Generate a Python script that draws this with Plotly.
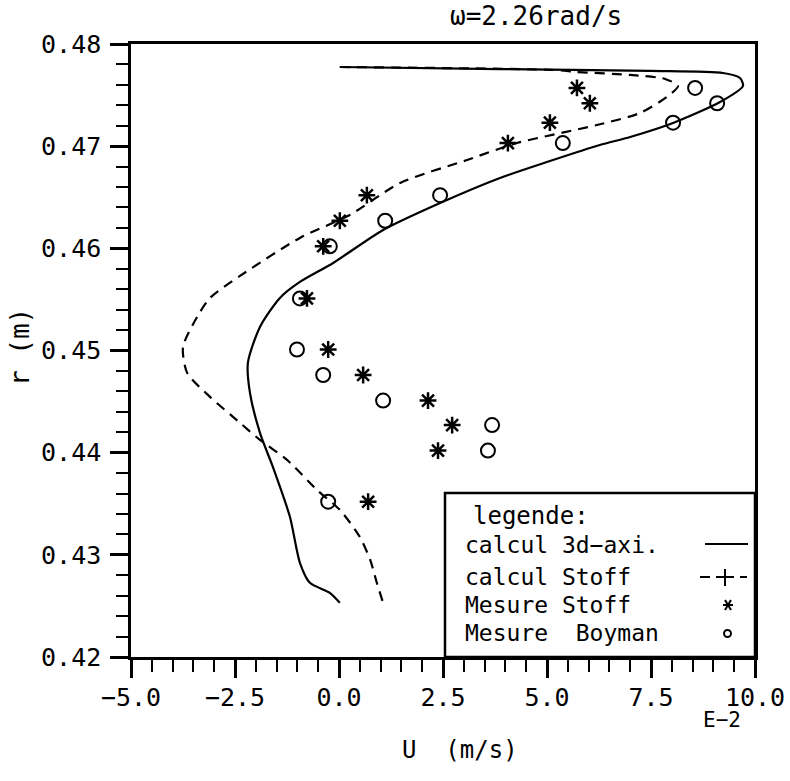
import plotly.graph_objects as go

# ---- data ----
calc3d_u = [0.02, 3.87, 7.48, 9.23, 9.64, 9.71, 9.16, 8.03, 7.0, 6.27, 5.07, 3.87, 2.43, 1.06, -0.14,
            -0.94, -1.42, -1.90, -2.19, -2.14, -1.90, -1.59, -1.18, -0.94, -0.70, -0.22, 0.02]
calc3d_r = [0.47775, 0.47755, 0.47736, 0.47716, 0.47667, 0.47589, 0.47432, 0.47227, 0.47090, 0.47012,
            0.46855, 0.46689, 0.46444, 0.4618, 0.45857, 0.45671, 0.45515, 0.45231, 0.44879, 0.44585,
            0.44194, 0.43861, 0.43372, 0.42922, 0.42726, 0.42628, 0.4253]

stoff_u = [0.02, 5.2, 5.72, 7.0, 7.84, 8.15, 7.88, 7.24, 6.2, 4.28, 3.08, 1.47, 0.26, -0.94, -2.38,
           -3.10, -3.41, -3.75, -3.65, -3.10, -2.38, -1.90, -1.25, -0.53, 0.02, 0.50, 0.75, 0.91, 1.06]
stoff_r = [0.47775, 0.47745, 0.47726, 0.47697, 0.47658, 0.47589, 0.47481, 0.47325, 0.47207, 0.47031,
           0.46865, 0.4664, 0.46327, 0.46102, 0.4573, 0.45515, 0.45329, 0.45035, 0.44781, 0.44546,
           0.44292, 0.44125, 0.4393, 0.43636, 0.4344, 0.43176, 0.42951, 0.42726, 0.4253]

mes_stoff_u = [5.72, 6.03, 5.07, 4.06, 0.67, 0.02, -0.38, -0.77, -0.26, 0.58, 2.14, 2.72, 2.38, 0.70]
mes_stoff_r = [0.4757, 0.4742, 0.4723, 0.4703, 0.4652, 0.4627, 0.4602, 0.4551, 0.4501, 0.4476,
               0.4451, 0.4427, 0.4402, 0.4352]

boyman_u = [8.56, 9.09, 8.03, 5.38, 2.43, 1.11, -0.22, -0.94, -1.01, -0.38, 1.06, 3.68, 3.58, -0.26]
boyman_r = [0.4757, 0.4742, 0.4723, 0.4703, 0.4652, 0.4627, 0.4602, 0.4551, 0.4501, 0.4476,
            0.4451, 0.4427, 0.4402, 0.4352]

x_ticks = [-5.0, -2.5, 0.0, 2.5, 5.0, 7.5, 10.0]
y_ticks = [0.42, 0.43, 0.44, 0.45, 0.46, 0.47, 0.48]

FONT = "DejaVu Sans Mono"
W, H = 790, 781
L, R, T, B = 131, 755, 44, 657


def px(x):
    return (x - L) / (R - L)


def py(y):
    return (B - y) / (B - T)


fig = go.Figure()
fig.add_trace(go.Scatter(x=calc3d_u, y=calc3d_r, mode="lines",
                         line=dict(color="black", width=2.2, shape="spline", smoothing=0.7),
                         showlegend=False))
fig.add_trace(go.Scatter(x=stoff_u, y=stoff_r, mode="lines",
                         line=dict(color="black", width=2.2, dash="10px,7px", shape="spline", smoothing=0.7),
                         showlegend=False))
fig.add_trace(go.Scatter(x=mes_stoff_u, y=mes_stoff_r, mode="markers",
                         marker=dict(symbol="asterisk-open", size=14, color="black",
                                     line=dict(color="black", width=2.5)),
                         showlegend=False))
fig.add_trace(go.Scatter(x=boyman_u, y=boyman_r, mode="markers",
                         marker=dict(symbol="circle-open", size=14, color="black",
                                     line=dict(color="black", width=2)),
                         showlegend=False))

axis_common = dict(showgrid=False, zeroline=False, showline=True, linecolor="black",
                   linewidth=2.5, mirror=True, ticks="outside", ticklen=18, tickwidth=2.5,
                   tickcolor="black", automargin=False,
                   tickfont=dict(family=FONT, size=25, color="black"))

fig.update_xaxes(range=[-5, 10], tickvals=x_ticks, tickformat=".1f", ticklabelstandoff=-2,
                 minor=dict(ticks="outside", ticklen=12, tickwidth=2, tickcolor="black", dtick=0.5),
                 **axis_common)
fig.update_yaxes(range=[0.42, 0.48], tickvals=y_ticks, tickformat=".2f", ticklabelstandoff=4,
                 minor=dict(ticks="outside", ticklen=12, tickwidth=2, tickcolor="black", dtick=0.002),
                 **axis_common)

shapes = []
# legend box
shapes.append(dict(type="rect", xref="paper", yref="paper", x0=px(445), x1=px(755), y0=py(657), y1=py(493),
                   line=dict(color="black", width=2.5), fillcolor="white", layer="above"))
# legend sample: solid
shapes.append(dict(type="line", xref="paper", yref="paper", x0=px(705), x1=px(748), y0=py(544), y1=py(544),
                   line=dict(color="black", width=2)))
# legend sample: dashed with plus
for a, b in [(700, 710), (716, 734), (740, 747)]:
    shapes.append(dict(type="line", xref="paper", yref="paper", x0=px(a), x1=px(b), y0=py(577), y1=py(577),
                       line=dict(color="black", width=2)))
shapes.append(dict(type="line", xref="paper", yref="paper", x0=px(725), x1=px(725), y0=py(569), y1=py(586),
                   line=dict(color="black", width=2)))
# legend sample: star
sx, sy = 728, 605
for dx, dy in [(5, 0), (3, 5), (3, -5)]:
    shapes.append(dict(type="line", xref="paper", yref="paper", x0=px(sx - dx), x1=px(sx + dx),
                       y0=py(sy - dy), y1=py(sy + dy), line=dict(color="black", width=2)))
# legend sample: small circle
shapes.append(dict(type="circle", xref="paper", yref="paper", x0=px(724), x1=px(731), y0=py(637), y1=py(630),
                   line=dict(color="black", width=2)))

annots = []


def txt(s, x, y, size=24, xanchor="center", angle=0):
    annots.append(dict(text=s, x=px(x), y=py(y), xref="paper", yref="paper", showarrow=False,
                       xanchor=xanchor, yanchor="middle", textangle=angle,
                       font=dict(family=FONT, size=size, color="black")))


txt("ω=2.26rad/s", 536, 16, size=26)
txt("E−2", 722, 720, size=21)
txt("U  (m/s)", 460, 750, size=24)
txt("r (m)", 20, 347, size=26, angle=-90)
txt("legende:", 471, 516, size=24, xanchor="left")
txt("calcul 3d−axi.", 463, 545, size=23, xanchor="left")
txt("calcul Stoff", 463, 577, size=23, xanchor="left")
txt("Mesure Stoff", 463, 605, size=23, xanchor="left")
txt("Mesure  Boyman", 463, 633, size=23, xanchor="left")

fig.update_layout(width=W, height=H, margin=dict(l=L, r=W - R, t=T, b=H - B, pad=0, autoexpand=False),
                  plot_bgcolor="white", paper_bgcolor="white", showlegend=False,
                  shapes=shapes, annotations=annots)

fig.write_html("out.html")
